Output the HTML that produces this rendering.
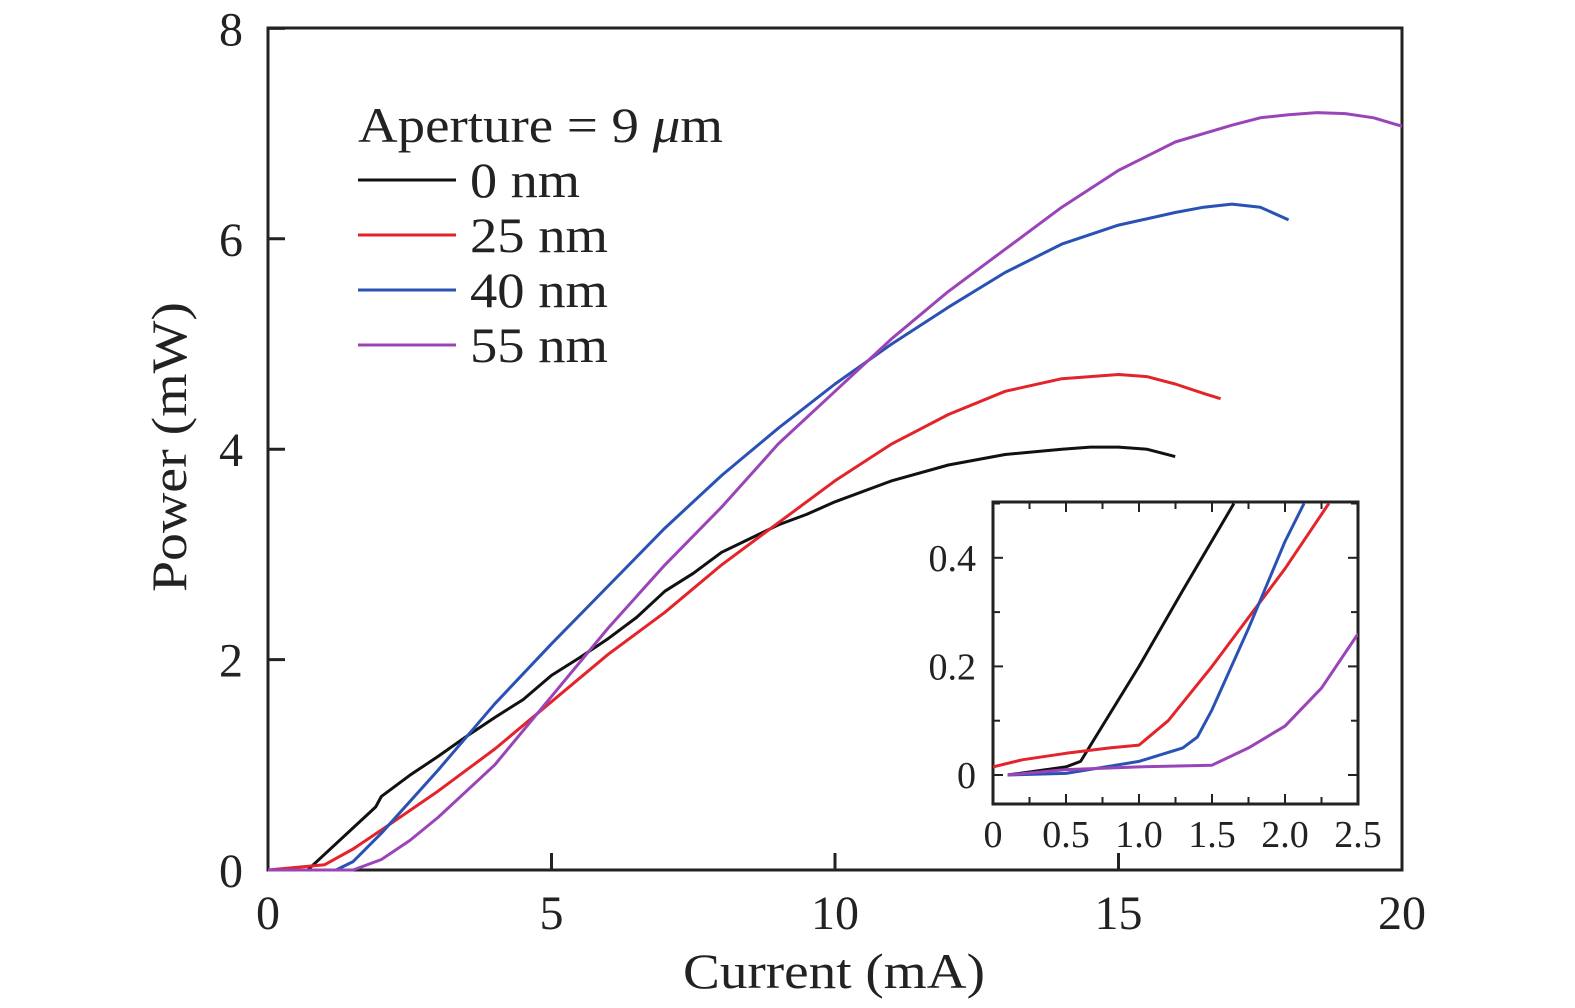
<!DOCTYPE html>
<html><head><meta charset="utf-8"><style>
body{margin:0;background:#fff}
svg{display:block}
text{font-family:"Liberation Serif",serif;fill:#222}
</style></head><body>
<svg id="chart" width="1575" height="1008" viewBox="0 0 1575 1008" xmlns="http://www.w3.org/2000/svg"></svg>
<script>
const colors=["#111111","#e3242b","#2a52b5","#9a44b8"];
const seriesNames=["0 nm","25 nm","40 nm","55 nm"];
const xTicks=[0,5,10,15,20];
const yTicks=[0,2,4,6,8];
const s0x=[0,0.7,1,1.5,1.8,1.9,2,2.5,3,3.5,4,4.5,5,5.5,6,6.5,7,7.5,8,8.5,9,9.5,10,11,12,13,14,14.5,15,15.5,16];
const s0y=[0,0,0.15,0.4,0.55,0.6,0.7,0.9,1.08,1.27,1.45,1.62,1.85,2.02,2.2,2.4,2.65,2.82,3.02,3.15,3.28,3.38,3.5,3.7,3.85,3.95,4.0,4.02,4.02,4.0,3.93];
const s1x=[0,1,1.5,2,3,4,5,6,7,8,9,10,11,12,13,14,15,15.5,16,16.5,16.8];
const s1y=[0,0.05,0.2,0.38,0.75,1.15,1.6,2.05,2.45,2.9,3.3,3.7,4.05,4.33,4.55,4.67,4.71,4.69,4.62,4.53,4.48];
const s2x=[0,1.2,1.5,2,3,4,5,6,7,8,9,10,11,12,13,14,15,16,16.5,17,17.5,18];
const s2y=[0,0,0.08,0.35,0.95,1.58,2.15,2.7,3.25,3.75,4.2,4.62,5.0,5.35,5.68,5.95,6.13,6.25,6.3,6.33,6.3,6.18];
const s3x=[0,1.5,2,2.5,3,4,5,6,7,8,9,10,11,12,13,14,15,16,17,17.5,18,18.5,19,19.5,20];
const s3y=[0,0,0.1,0.28,0.5,1.0,1.65,2.3,2.9,3.45,4.05,4.55,5.05,5.5,5.9,6.3,6.65,6.92,7.08,7.15,7.18,7.2,7.19,7.15,7.07];
const insetXTicks=["0","0.5","1.0","1.5","2.0","2.5"];
const insetYTicks=[0,0.2,0.4];
const i0x=[0.1,0.5,0.6,1.0,1.3,1.65];
const i0y=[0,0.015,0.025,0.2,0.34,0.5];
const i1x=[0,0.2,0.5,0.8,1.0,1.2,1.5,2.0,2.3];
const i1y=[0.015,0.028,0.04,0.05,0.055,0.1,0.2,0.38,0.5];
const i2x=[0.1,0.5,1.0,1.3,1.4,1.5,1.75,2.0,2.13];
const i2y=[0,0.003,0.025,0.05,0.07,0.12,0.27,0.43,0.5];
const i3x=[0.1,0.5,1.0,1.5,1.75,2.0,2.25,2.5];
const i3y=[0,0.01,0.015,0.018,0.05,0.09,0.16,0.26];

const svg=document.getElementById('chart');
const NS="http://www.w3.org/2000/svg";
function mk(t,a,p){const e=document.createElementNS(NS,t);for(const k in a)e.setAttribute(k,a[k]);(p||svg).appendChild(e);return e;}
const X=v=>268+v*56.7, Y=v=>870-v*105.2;
const IX=v=>993+v*146, IY=v=>775-v*543;

let f=mk('rect',{x:268,y:28,width:1134,height:842,fill:'none',stroke:'#222','stroke-width':3});

xTicks.forEach(v=>{
  let l=mk('line',{x1:X(v),x2:X(v),y1:870,y2:853,stroke:'#222','stroke-width':3});
  
  let t=mk('text',{x:X(v),y:929,'font-size':48,'text-anchor':'middle'});t.textContent=v;
  
});
yTicks.forEach(v=>{
  let l=mk('line',{x1:268,x2:285,y1:Y(v),y2:Y(v),stroke:'#222','stroke-width':3});
  
  let t=mk('text',{x:243,y:Y(v)+17,'font-size':48,'text-anchor':'end'});t.textContent=v;
  
});
let xt=mk('text',{x:683,y:988,'font-size':50,textLength:302,lengthAdjust:'spacingAndGlyphs'});xt.textContent='Current (mA)';

let yt=mk('text',{x:186,y:592,'font-size':50,textLength:290,lengthAdjust:'spacingAndGlyphs',transform:'rotate(-90 186 592)'});yt.textContent='Power (mW)';


const mainX=[s0x,s1x,s2x,s3x], mainY=[s0y,s1y,s2y,s3y];
mainX.forEach((xs,i)=>{
  const d=xs.map((x,j)=>(j?'L':'M')+X(x).toFixed(1)+','+Y(mainY[i][j]).toFixed(1)).join('');
  let p=mk('path',{d:d,fill:'none',stroke:colors[i],'stroke-width':3,'stroke-linejoin':'round'});
  
  
});

let lt=mk('text',{x:358,y:142,'font-size':50,textLength:365,lengthAdjust:'spacingAndGlyphs'});lt.innerHTML='Aperture = 9 <tspan font-style="italic">μ</tspan>m';

seriesNames.forEach((n,i)=>{
  const y=180+i*55;
  let l=mk('line',{x1:358,x2:456,y1:y,y2:y,stroke:colors[i],'stroke-width':3});
  
  let t=mk('text',{x:470,y:y+17,'font-size':50,textLength:i===0?110:138,lengthAdjust:'spacingAndGlyphs'});t.textContent=n;
  
});

let ib=mk('rect',{x:993,y:502,width:365,height:302,fill:'#fff',stroke:'#222','stroke-width':3});

for(let k=0;k<=10;k++){
  const x=IX(k*0.25);
  let a=mk('line',{x1:x,x2:x,y1:804,y2:k%2?797:794,stroke:'#222','stroke-width':2});
  
  let b=mk('line',{x1:x,x2:x,y1:502,y2:k%2?509:512,stroke:'#222','stroke-width':2});
  
}
for(let k=0;k<=5;k++){
  const y=IY(k*0.1);
  let a=mk('line',{x1:993,x2:k%2?1000:1003,y1:y,y2:y,stroke:'#222','stroke-width':2});
  
  let b=mk('line',{x1:1358,x2:k%2?1351:1348,y1:y,y2:y,stroke:'#222','stroke-width':2});
  
}
insetXTicks.forEach((s,k)=>{
  let t=mk('text',{x:IX(k*0.5),y:847,'font-size':38,'text-anchor':'middle'});t.textContent=s;
  
});
insetYTicks.forEach(v=>{
  let t=mk('text',{x:976,y:IY(v)+13,'font-size':38,'text-anchor':'end'});t.textContent=v===0?'0':v.toFixed(1);
  
});
mk('clipPath',{id:'ic'});
mk('rect',{x:993,y:502,width:365,height:302},document.getElementById('ic'));
const insX=[i0x,i1x,i2x,i3x], insY=[i0y,i1y,i2y,i3y];
insX.forEach((xs,i)=>{
  const d=xs.map((x,j)=>(j?'L':'M')+IX(x).toFixed(1)+','+IY(insY[i][j]).toFixed(1)).join('');
  let p=mk('path',{d:d,fill:'none',stroke:colors[i],'stroke-width':3,'stroke-linejoin':'round','clip-path':'url(#ic)'});
  
  
});
</script>
</body></html>
